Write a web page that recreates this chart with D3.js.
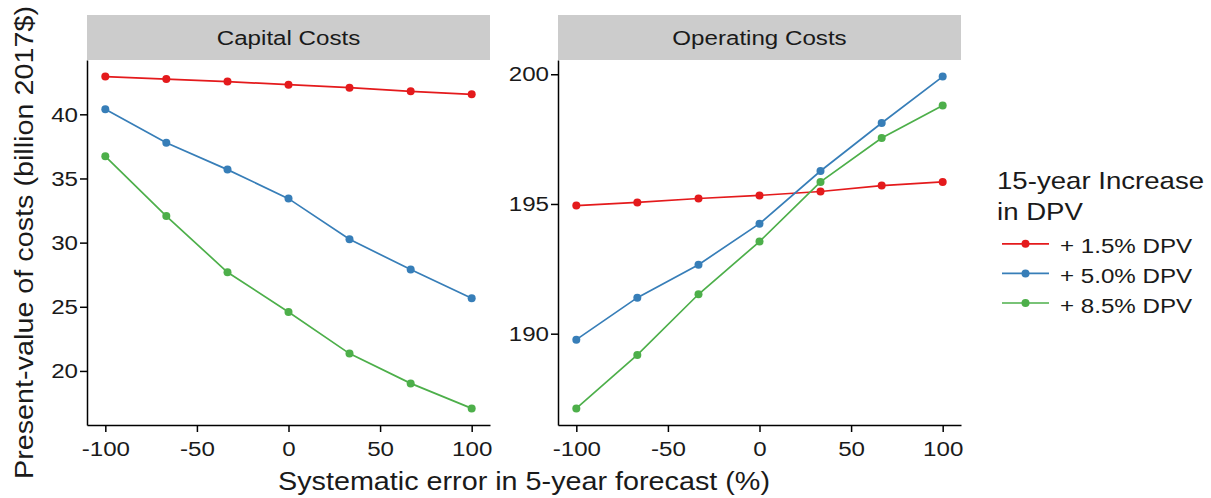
<!DOCTYPE html>
<html>
<head>
<meta charset="utf-8">
<script src="https://cdn.jsdelivr.net/npm/d3@7"></script>
<style>
  body { margin: 0; background: #fff; }
  text { font-family: "Liberation Sans", Arial, sans-serif; fill: #1a1a1a; }
</style>
</head>
<body>
<div id="container"></div>
<script>
// forecast error (%) on the x axis
var errorPct = [-100, -66.7, -33.3, 0, 33.3, 66.7, 100];
var seriesNames = ["+ 1.5% DPV", "+ 5.0% DPV", "+ 8.5% DPV"];
var seriesColors = ["#E41A1C", "#377EB8", "#4DAF4A"];
var panelNames = ["Capital Costs", "Operating Costs"];

// billion 2017$
var capital15 = [42.94, 42.75, 42.55, 42.31, 42.08, 41.79, 41.56];
var capital50 = [40.39, 37.79, 35.69, 33.43, 30.26, 27.90, 25.66];
var capital85 = [36.73, 32.07, 27.69, 24.59, 21.35, 19.03, 17.08];
var operating15 = [194.94, 195.06, 195.21, 195.33, 195.48, 195.71, 195.85];
var operating50 = [189.77, 191.39, 192.66, 194.24, 196.27, 198.12, 199.91];
var operating85 = [187.12, 189.18, 191.52, 193.55, 195.85, 197.54, 198.80];

var xTicks = [-100, -50, 0, 50, 100];
var capitalTicks = [20, 25, 30, 35, 40];
var operatingTicks = [190, 195, 200];

var width = 1211, height = 498;
var plotTop = 60, plotBottom = 425;
var stretch = 1.15;   // the reference type is a little wider than Arial

var panels = [
  { name: panelNames[0], x0: 87, x1: 490, series: [capital15, capital50, capital85], ticks: capitalTicks },
  { name: panelNames[1], x0: 558, x1: 961, series: [operating15, operating50, operating85], ticks: operatingTicks }
];

var svg = d3.select("#container").append("svg")
  .attr("width", width)
  .attr("height", height);

// ggplot-style 5% expansion
function expand(ext) {
  var r = ext[1] - ext[0];
  return [ext[0] - 0.05 * r, ext[1] + 0.05 * r];
}

function label(parent, x, y, size, str, anchor) {
  return parent.append("text")
    .attr("transform", "translate(" + x + "," + y + ") scale(" + stretch + ",1)")
    .attr("text-anchor", anchor || "start")
    .style("font-size", size + "px")
    .text(str);
}

panels.forEach(function (p) {
  var x = d3.scaleLinear().domain(expand(d3.extent(errorPct))).range([p.x0, p.x1]);
  var allVals = d3.merge(p.series);
  var y = d3.scaleLinear().domain(expand(d3.extent(allVals))).range([plotBottom, plotTop]);

  // strip
  svg.append("rect")
    .attr("x", p.x0)
    .attr("y", 15)
    .attr("width", p.x1 - p.x0)
    .attr("height", plotTop - 15)
    .style("fill", "#CCCCCC");
  label(svg, (p.x0 + p.x1) / 2, 45, 21, p.name, "middle");

  var gx = svg.append("g")
    .attr("transform", "translate(0," + plotBottom + ")")
    .call(d3.axisBottom(x).tickValues(xTicks).tickFormat(function (d) { return String(d); })
      .tickSize(7).tickSizeOuter(0).tickPadding(9));
  var gy = svg.append("g")
    .attr("transform", "translate(" + p.x0 + ",0)")
    .call(d3.axisLeft(y).tickValues(p.ticks).tickFormat(function (d) { return String(d); })
      .tickSize(7).tickSizeOuter(0));

  [gx, gy].forEach(function (g) {
    g.selectAll("path, line").style("stroke", "#000").style("stroke-width", 1.5);
    g.selectAll("text").style("font-size", "21px").style("fill", "#1a1a1a")
      .style("font-family", '"Liberation Sans", Arial, sans-serif')
      .attr("transform", "scale(" + stretch + ",1)");
  });
  gx.selectAll("text").attr("dy", "0.72em");
  gy.selectAll("text").attr("x", -9 / stretch);

  var line = d3.line()
    .x(function (d, i) { return x(errorPct[i]); })
    .y(function (d) { return y(d); });

  p.series.forEach(function (vals, k) {
    svg.append("path")
      .datum(vals)
      .attr("d", line)
      .style("fill", "none")
      .style("stroke", seriesColors[k])
      .style("stroke-width", 1.7);
    svg.selectAll(null)
      .data(vals)
      .enter()
      .append("circle")
      .attr("cx", function (d, i) { return x(errorPct[i]); })
      .attr("cy", function (d) { return y(d); })
      .attr("r", 4)
      .style("fill", seriesColors[k]);
  });
});

// axis titles
label(svg, (87 + 961) / 2, 490, 25, "Systematic error in 5-year forecast (%)", "middle");
svg.append("text")
  .attr("transform", "translate(33," + (plotTop + plotBottom) / 2 + ") rotate(-90) scale(" + stretch + ",1)")
  .attr("text-anchor", "middle")
  .style("font-size", "25px")
  .text("Present-value of costs (billion 2017$)");

// legend
var legend = svg.append("g");
label(legend, 997, 189, 24, "15-year Increase");
label(legend, 997, 220, 24, "in DPV");

seriesNames.forEach(function (name, k) {
  var ky = 243.8 + k * 29.6;
  legend.append("line")
    .attr("x1", 1002).attr("x2", 1049)
    .attr("y1", ky).attr("y2", ky)
    .style("stroke", seriesColors[k])
    .style("stroke-width", 1.7);
  legend.append("circle")
    .attr("cx", 1025.5).attr("cy", ky).attr("r", 4)
    .style("fill", seriesColors[k]);
  label(legend, 1060, ky + 9.5, 21, name);
});
</script>
</body>
</html>
